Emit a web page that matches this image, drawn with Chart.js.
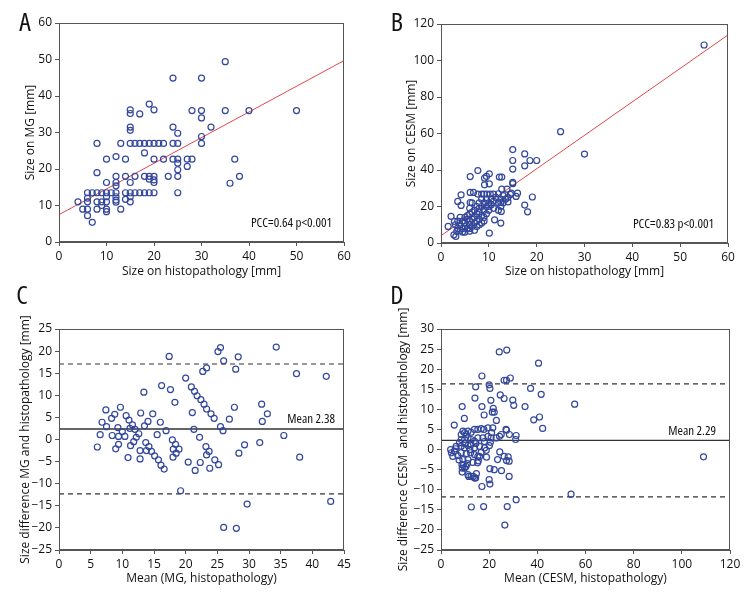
<!DOCTYPE html>
<html>
<head>
<meta charset="utf-8">
<script src="https://cdn.jsdelivr.net/npm/chart.js@4.4.1/dist/chart.umd.min.js"></script>
<style>
    html, body { margin: 0; padding: 0; background: #fff; }
    #wrap { position: relative; width: 756px; height: 600px; }
    .panel { position: absolute; }
</style>
</head>
<body>
<div id="wrap">
    <div class="panel" style="left:0;top:0;width:378px;height:285px"><canvas id="chartA"></canvas></div>
    <div class="panel" style="left:378px;top:0;width:378px;height:285px"><canvas id="chartB"></canvas></div>
    <div class="panel" style="left:0;top:285px;width:378px;height:315px"><canvas id="chartC"></canvas></div>
    <div class="panel" style="left:378px;top:285px;width:378px;height:315px"><canvas id="chartD"></canvas></div>
</div>
<script>
'use strict';

// ---- data ----

// A: histopathology size vs MG size [mm]
const pointsA = [
    [4,11],[5,9],[6,13.5],[6,12],[6,11],[6,9],[6,7.2],[7,5.4],[7,13.5],[8,27],[8,19],[8,13.5],[8,11],[8,9],
    [9,13.5],[9,11],[9,10],[10,22.7],[10,16.3],[10,13.5],[10,12.4],[10,11],[10,9],[10,8.3],[11,13.5],
    [12,23.4],[12,18],[12,16.3],[12,15.4],[12,13.5],[12,12.4],[12,11.5],[12,10.9],[13,27],[13,9],
    [14,22.7],[14,18],[14,13.5],[14,11.7],[15,36.2],[15,35.2],[15,31.5],[15,30.6],[15,27],[15,16.3],
    [15,13.5],[15,12.4],[15,11],[16,27],[16,18],[16,13.5],[17,35.1],[17,27],[17,13.5],[18,27],[18,24.4],
    [18,18],[18,13.5],[19,37.8],[19,27],[19,18],[19,17.2],[19,13.5],[20,36.2],[20,27],[20,22.7],[20,18],
    [20,17],[20,16.3],[20,13.5],[21,27],[22,27],[22,22.7],[23,18],[24,44.9],[24,31.5],[24,27],[24,22.7],
    [25,29.8],[25,27],[25,22.7],[25,21.6],[25,19.8],[25,18],[25,13.5],[27,22.7],[27,20.7],[28,36],[28,22.7],
    [30,44.9],[30,36],[30,34],[30,28.9],[30,27],[32,31.5],[35,49.4],[35,36],[36,16.1],[37,22.7],[38,18],
    [40,36],[50,36]
];
const fitAX = [0, 60];
const fitAY = [7.5, 49.7];

// B: histopathology size vs CESM size [mm]
const pointsB = [
    [25,61],[30,48.7],[55,108.5],[15,51.2],[15,45.2],[15,40.5],[15,33.2],[15,32.5],[17.5,48.8],[17.5,42.3],
    [18.6,45.2],[20,45.2],[17.5,20.8],[18.1,17.1],[19.1,25.2],[7.7,39.7],[6.1,36.4],[9.1,35.5],[10.1,37.9],
    [9.5,36.5],[12.2,36.1],[12.7,36.1],[9.1,31.9],[10.1,32.4],[4.2,26.4],[6.1,27.7],[6.8,27.7],[3.5,22.8],
    [4.2,20.6],[6.1,22.2],[7.7,26.8],[8.5,26.8],[9,26.8],[9.6,26.8],[10.3,26.8],[11,26.8],[14.7,27.3],
    [15.7,25.5],[16,27.3],[13.8,29.5],[12.7,29.5],[12.6,17.3],[11.2,12.7],[10.1,5.4],[12.5,10.9],[12,18],
    [1.5,9.1],[2.1,14.6],[2.8,11.8],[2.7,4.5],[3.1,3.6],[3.3,6.4],[13.5,24],[14,22.5],[12.5,24],[12.5,22.2],
    [12.5,20],[14.5,26.6],
    [3.5,8],[4,7],[4,10],[4.5,12],[4.5,6],[5,9],[5,11],[5,14],[5.5,13],[5.5,8],[5.5,15],[6,6.5],[6,10],
    [6,12],[6,16],[6,19],[6.5,9],[6.5,13],[6.5,17],[7,11],[7,14],[7,18],[7,7],[7.5,16],[7.5,20],[7.5,12],
    [7.5,9],[8,13],[8,17],[8,22],[8,19],[8,10],[8.5,15],[8.5,20],[8.5,24],[8.5,11],[9,14],[9,18],[9,22],
    [9,12],[9.5,16],[9.5,20],[9.5,24],[10,18],[10,22],[10,20],[10.5,21],[10.5,24],[11,23],[11,19],
    [11.5,25],[12,22],[12,27],[13,26],[13,22],[14,25],[4,14],[3,10],[3.5,12],[5,6],[4.5,8],[6,8],[6.5,22]
];
const fitBX = [0, 60];
const fitBY = [4, 114];

// C: Bland-Altman, MG vs histopathology
const pointsC = [
    [6.05,-1.7],[6.5,1.1],[6.8,3.9],[7.4,6.7],[7.5,2.9],[8.3,4.8],[8.4,0.9],[8.8,5.7],[8.95,-2.1],[9.3,2.7],
    [9.4,0.7],[9.4,-1.1],[9.7,7.3],[10,1.8],[10.4,0.7],[10.6,5.4],[10.9,-4.1],[11.05,4.4],[11.2,2.5],
    [11.3,-1.4],[11.6,3.3],[11.8,-0.5],[12,2.3],[12.2,0.5],[12.6,1.3],[12.8,-2.5],[12.8,-4.4],[12.9,6],
    [13.4,10.7],[13.5,3.1],[13.7,-0.7],[13.8,-2.5],[14.05,4.1],[14.2,-1.6],[14.6,-2.7],[14.8,5.8],
    [15.1,-3.7],[15.5,1.1],[15.7,-4.6],[16,3.9],[16.1,-5.8],[16.2,12.2],[16.6,-6.7],[16.9,2],[17.4,18.8],
    [17.6,11.3],[17.9,-0.1],[18,-4],[18.05,-2.2],[18.3,8.4],[18.4,-1.1],[18.5,-3.1],[18.95,-2.2],
    [19.2,-11.6],[20,13.9],[20.4,-5.1],[20.9,11.9],[21.05,6.1],[21.3,2.3],[21.4,10.9],[21.5,-7],[21.8,9.9],
    [22.2,0.5],[22.3,-5.2],[22.4,9],[22.7,15.4],[22.9,8],[23.2,-1.6],[23.3,16.2],[23.3,6.9],[23.3,-3.5],
    [23.7,-2.7],[23.8,-6.5],[24,5.8],[24.5,4.8],[24.6,-4.6],[25.1,19.9],[25.2,-5.7],[25.5,20.8],[25.5,2.9],
    [25.9,2],[26,17.8],[26,-19.9],[26.9,4.6],[27.7,7.3],[27.9,15.9],[28,-20.1],[28.3,18.7],[28.4,-3.1],
    [29.3,-1.2],[29.7,-14.6],[31.7,-0.7],[32,8],[32.1,4.1],[32.9,5.8],[34.3,20.9],[35.5,0.9],[37.5,14.9],
    [38,-4],[42.2,14.3],[42.9,-14]
];
const meanC = 2.38;
const limitsC = [17.08, -12.32];

// D: Bland-Altman, CESM vs histopathology
const pointsD = [
    [24.2,24.3],[27.3,24.75],[40.5,21.5],[17,18.3],[28.8,17.8],[26.2,17.25],[27.2,17.25],[14.4,15.6],
    [20,16.1],[20.3,15.2],[37.2,15.2],[14.1,12.8],[24.6,13.6],[26.2,12.7],[29.8,12.3],[30.2,11],[41.6,13.75],
    [55.5,11.3],[8.8,10.7],[17,10.7],[20.7,12.25],[21.7,10.25],[21.3,9.3],[22.1,9.3],[34.9,10.7],[40.9,8.1],
    [38.5,7.4],[9.7,7.75],[17.9,8.6],[23,7.25],[42.2,5.25],[5.5,6.1],[27.2,4.8],[31.2,3.5],[31,2.5],
    [54,-11.1],[109,-1.8],[31.2,-12.5],[12.6,-14.3],[17.7,-14.2],[27.5,-14.2],[26.5,-18.8],[17,-9.2],
    [20.3,-8.6],[20,-7.5],[14.4,-7.1],[13.4,-6.7],[11.5,-6.7],[8.8,-5.6],[8.8,-4.6],[14.7,-6],[20.3,-4.75],
    [22.1,-5],[25.1,-5.25],[28.3,-6.7],[23.5,-2.5],[24.4,-0.6],[26.2,-1.7],[27.2,-2.75],[27.9,-1.8],
    [28.3,-2.9],[18.9,-1.9],[15.5,-2.8],[15.2,-3.3],[16,-1.7],[10.4,-4.2],[9.3,-3.9],
    [4,0],[4.3,-0.8],[4.9,-1.7],[6.3,0.8],[5.6,-0.4],[7.7,1.7],[8.4,3.75],[9.1,4.6],[9.8,4.2],[10.5,3.75],
    [11.2,4.6],[12.5,4.3],[13.9,5],[15.3,5],[16.7,5.2],[17.8,5],[19.5,5.4],[21.5,5.4],[8.4,2.5],[9.8,2.5],
    [11.2,2.9],[12.5,2.5],[13.9,2.1],[15.3,2.9],[17.4,2.9],[19.5,3.3],[20.8,2.9],[22.9,2.9],[24.3,3.3],
    [8.4,0.8],[9.8,0.4],[11.2,1],[12.5,1.25],[13.9,0.4],[16,0.8],[18.1,0.4],[20.1,1],[8.4,-0.8],[10.5,-1],
    [12.3,-0.8],[13.9,-1.25],[16.7,-0.7],[18.8,-0.2],[9.1,-2.5],[11.2,-2.5],[13.2,-3.2],[15.3,-1.7],
    [8.7,-3.75],[9.8,-4.6],[11.2,-6.25],[12.5,-6.7],[13.9,-7.1],[28.4,3.75],[25,3.75],[27,5],[7,-1.5],
    [6,0.2],[10,1.5],[12,0],[14.5,1.5],[18,2],[20.5,1.8],[21,4.2],[11,-3.5],[7.5,-2.6]
];
const meanD = 2.29;
const limitsD = [16.34, -11.76];

// axis ranges [min, max, step]
const xAxisA = [0, 60, 10], yAxisA = [0, 60, 10];
const xAxisB = [0, 60, 10], yAxisB = [0, 120, 20];
const xAxisC = [0, 45, 5],  yAxisC = [-25, 25, 5];
const xAxisD = [0, 120, 20], yAxisD = [-25, 30, 5];

// ---- styling ----
// condensed face of Open Sans is the closest to the original narrow font
const FONT = '"Open Sans", "Liberation Sans", sans-serif';
const STRETCH = 'condensed';
const FONT_SIZE = 12;
const AXIS_COLOR = '#555';
const TEXT_COLOR = '#111';
const MARK_COLOR = '#33479b';
const FIT_COLOR = '#e2474a';

const toXY = pairs => pairs.map(([x, y]) => ({ x, y }));
const lineXY = (xs, ys) => xs.map((x, i) => ({ x, y: ys[i] }));
const minus = v => String(v).replace('-', '\u2212');
const textFont = { family: FONT, size: FONT_SIZE, style: STRETCH };

// draws the frame, the panel letter and the note text
const panelDecor = {
    id: 'panelDecor',
    afterDraw(chart, args, opts) {
        const { ctx, chartArea: a } = chart;
        ctx.save();
        ctx.strokeStyle = AXIS_COLOR;
        ctx.lineWidth = 1;
        ctx.strokeRect(Math.round(a.left) + 0.5, Math.round(a.top) + 0.5,
            Math.round(a.right - a.left) - 1, Math.round(a.bottom - a.top) - 1);

        ctx.fillStyle = '#111';
        ctx.textBaseline = 'middle';
        ctx.textAlign = 'center';
        ctx.font = STRETCH + ' 26px ' + FONT;
        ctx.fillText(opts.letter, opts.letterX, opts.letterY);

        ctx.font = STRETCH + ' ' + (FONT_SIZE + 1) + 'px ' + FONT;
        ctx.textAlign = 'right';
        const y = opts.noteValue !== undefined
            ? chart.scales.y.getPixelForValue(opts.noteValue) - opts.noteOffset
            : a.bottom - opts.noteOffset;
        ctx.fillText(opts.note, a.right - opts.noteRight, y);
        ctx.restore();
    }
};

function scatterSet(points) {
    return {
        data: toXY(points),
        pointRadius: 3,
        pointHoverRadius: 3,
        pointBorderWidth: 1.2,
        pointBorderColor: MARK_COLOR,
        pointBackgroundColor: 'rgba(0,0,0,0)',
        showLine: false
    };
}

function lineSet(data, color, width, dash) {
    return {
        data,
        showLine: true,
        pointRadius: 0,
        borderColor: color,
        borderWidth: width,
        borderDash: dash || [],
        fill: false
    };
}

function axis(range, title, size) {
    return {
        type: 'linear',
        min: range[0],
        max: range[1],
        ticks: {
            stepSize: range[2],
            color: TEXT_COLOR,
            font: textFont,
            padding: 3,
            callback: minus
        },
        grid: { drawOnChartArea: false, drawTicks: true, tickLength: 4, color: AXIS_COLOR },
        border: { color: AXIS_COLOR, width: 1 },
        title: { display: true, text: title, color: TEXT_COLOR, font: textFont, padding: 2 },
        afterFit: s => { if (s.isHorizontal()) s.height = size; else s.width = size; }
    };
}

function makePanel(id, cfg) {
    return new Chart(document.getElementById(id), {
        type: 'scatter',
        data: { datasets: cfg.datasets },
        options: {
            responsive: true,
            maintainAspectRatio: false,
            animation: false,
            layout: { padding: cfg.padding },
            plugins: {
                legend: { display: false },
                tooltip: { enabled: false },
                panelDecor: cfg.decor
            },
            scales: {
                x: axis(cfg.xRange, cfg.xTitle, cfg.xSize),
                y: axis(cfg.yRange, cfg.yTitle, cfg.ySize)
            }
        },
        plugins: [panelDecor]
    });
}

makePanel('chartA', {
    datasets: [scatterSet(pointsA), lineSet(lineXY(fitAX, fitAY), FIT_COLOR, 1)],
    padding: { left: 21, top: 23, right: 34, bottom: 4 },
    xRange: xAxisA, yRange: yAxisA, xSize: 39, ySize: 38,
    xTitle: 'Size on histopathology [mm]', yTitle: 'Size on MG [mm]',
    decor: { letter: 'A', letterX: 25, letterY: 24, note: 'PCC=0.64 p<0.001', noteRight: 12, noteOffset: 19 }
});

makePanel('chartB', {
    datasets: [scatterSet(pointsB), lineSet(lineXY(fitBX, fitBY), FIT_COLOR, 1)],
    padding: { left: 24, top: 24, right: 28, bottom: 4 },
    xRange: xAxisB, yRange: yAxisB, xSize: 38, ySize: 39,
    xTitle: 'Size on histopathology [mm]', yTitle: 'Size on CESM [mm]',
    decor: { letter: 'B', letterX: 19, letterY: 24, note: 'PCC=0.83 p<0.001', noteRight: 14, noteOffset: 19 }
});

makePanel('chartC', {
    datasets: [
        scatterSet(pointsC),
        lineSet(lineXY([xAxisC[0], xAxisC[1]], [meanC, meanC]), '#333', 1.3),
        lineSet(lineXY([xAxisC[0], xAxisC[1]], [limitsC[0], limitsC[0]]), '#333', 1.2, [5, 4]),
        lineSet(lineXY([xAxisC[0], xAxisC[1]], [limitsC[1], limitsC[1]]), '#333', 1.2, [5, 4])
    ],
    padding: { left: 16, top: 44, right: 34, bottom: 12 },
    xRange: xAxisC, yRange: yAxisC, xSize: 38, ySize: 43,
    xTitle: 'Mean (MG, histopathology)', yTitle: 'Size difference MG and histopathology [mm]',
    decor: { letter: 'C', letterX: 22, letterY: 12, note: 'Mean 2.38', noteValue: meanC, noteRight: 9, noteOffset: 10 }
});

makePanel('chartD', {
    datasets: [
        scatterSet(pointsD),
        lineSet(lineXY([xAxisD[0], xAxisD[1]], [meanD, meanD]), '#333', 1.3),
        lineSet(lineXY([xAxisD[0], xAxisD[1]], [limitsD[0], limitsD[0]]), '#333', 1.2, [5, 4]),
        lineSet(lineXY([xAxisD[0], xAxisD[1]], [limitsD[1], limitsD[1]]), '#333', 1.2, [5, 4])
    ],
    padding: { left: 16, top: 44, right: 26, bottom: 12 },
    xRange: xAxisD, yRange: yAxisD, xSize: 38, ySize: 47,
    xTitle: 'Mean (CESM, histopathology)', yTitle: 'Size difference CESM  and histopathology [mm]',
    decor: { letter: 'D', letterX: 19, letterY: 12, note: 'Mean 2.29', noteValue: meanD, noteRight: 14, noteOffset: 9 }
});
</script>
</body>
</html>
